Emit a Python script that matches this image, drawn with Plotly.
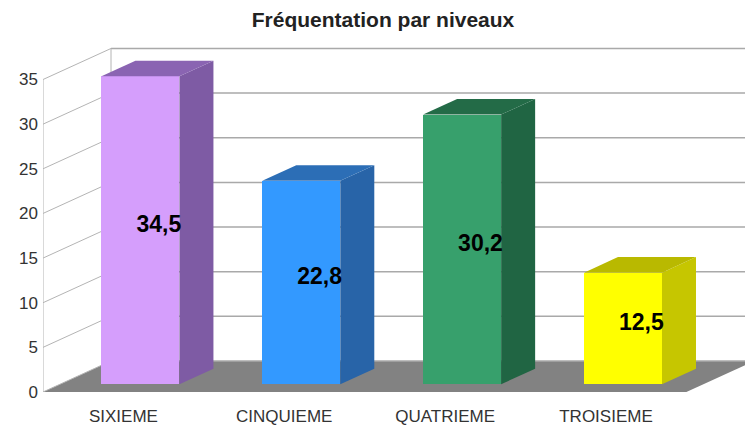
import plotly.graph_objects as go

# ---- data ----
categories = ["SIXIEME", "CINQUIEME", "QUATRIEME", "TROISIEME"]
values = [34.5, 22.8, 30.2, 12.5]
value_labels = ["34,5", "22,8", "30,2", "12,5"]
y_ticks = [0, 5, 10, 15, 20, 25, 30, 35]

front_colors = ["#d59efc", "#3399ff", "#37a06c", "#ffff00"]
side_colors = ["#7e5ba4", "#2864a8", "#206543", "#c6c600"]
top_colors = ["#8a64b2", "#2c6eb6", "#236b47", "#b9b900"]

# ---- oblique 3D projection parameters (data units) ----
DX = 0.4228   # horizontal shift for full depth
DY = 3.48     # vertical shift for full depth
D0, D1 = 0.25, 0.75   # bar depth span
BW = 0.485            # bar width
XL, XR = -0.5, len(categories) - 0.5
YMAX = max(y_ticks)

fig = go.Figure()
shapes = []
line_col = "#b4b4b4"

# floor
shapes.append(dict(type="path", xref="x", yref="y", layer="below",
                   path=f"M {XL} 0 L {XR} 0 L {XR+DX} {DY} L {XL+DX} {DY} Z",
                   fillcolor="#828282", line=dict(width=0)))
# back wall gridlines
for v in y_ticks:
    shapes.append(dict(type="line", xref="x", yref="y", layer="below",
                       x0=XL + DX, y0=v + DY, x1=XR + DX + 1, y1=v + DY,
                       line=dict(color="#a9a9a9", width=1.5)))
# left wall lines
for v in y_ticks:
    shapes.append(dict(type="line", xref="x", yref="y", layer="below",
                       x0=XL, y0=v, x1=XL + DX, y1=v + DY,
                       line=dict(color=line_col, width=1)))
shapes.append(dict(type="line", xref="x", yref="y", layer="below",
                   x0=XL, y0=0, x1=XL, y1=YMAX, line=dict(color=line_col, width=1)))
shapes.append(dict(type="line", xref="x", yref="y", layer="below",
                   x0=XL + DX, y0=DY, x1=XL + DX, y1=YMAX + DY,
                   line=dict(color=line_col, width=1)))

# front faces of bars
xs_front = [i + D0 * DX for i in range(len(categories))]
fig.add_trace(go.Bar(x=xs_front, y=values, base=D0 * DY, width=BW,
                     marker=dict(color=front_colors, line=dict(width=0)),
                     hoverinfo="skip", showlegend=False))

# side and top faces
for i, v in enumerate(values):
    xl = i + D0 * DX - BW / 2
    xr = i + D0 * DX + BW / 2
    yb = D0 * DY
    yt = v + D0 * DY
    ddx = (D1 - D0) * DX
    ddy = (D1 - D0) * DY
    fig.add_trace(go.Scatter(x=[xr, xr + ddx, xr + ddx, xr, xr],
                             y=[yb, yb + ddy, yt + ddy, yt, yb],
                             fill="toself", fillcolor=side_colors[i],
                             line=dict(width=0), mode="lines",
                             hoverinfo="skip", showlegend=False))
    fig.add_trace(go.Scatter(x=[xl, xr, xr + ddx, xl + ddx, xl],
                             y=[yt, yt, yt + ddy, yt + ddy, yt],
                             fill="toself", fillcolor=top_colors[i],
                             line=dict(width=0), mode="lines",
                             hoverinfo="skip", showlegend=False))

# data labels near bar centres
fig.add_trace(go.Scatter(x=[i + 0.52 * DX for i in range(len(categories))],
                         y=[v / 2 + 0.37 * DY for v in values],
                         mode="text", text=value_labels,
                         textfont=dict(family="Liberation Sans", size=23, color="#000000"),
                         texttemplate="<b>%{text}</b>",
                         hoverinfo="skip", showlegend=False))

W, H = 745, 435
left, bottom, top = 43, 43.3, 40
px_per_x = 160.85
px_per_y = 8.92
x_range = [XL, XL + (W - left) / px_per_x]
y_range = [0, (H - bottom - top) / px_per_y]

fig.update_layout(
    width=W, height=H,
    margin=dict(l=left, r=0, t=top, b=bottom),
    paper_bgcolor="white", plot_bgcolor="white",
    shapes=shapes,
    title=dict(text="<b>Fréquentation par niveaux</b>", x=383 / W, xref="container",
               xanchor="center", y=1 - 20 / H, yref="container", yanchor="middle",
               font=dict(family="Liberation Sans", size=21, color="#222222")),
    xaxis=dict(range=x_range, tickvals=list(range(len(categories))), ticktext=categories,
               showgrid=False, zeroline=False, showline=False, ticks="",
               ticklabelstandoff=12,
               tickfont=dict(family="Liberation Sans", size=17, color="#333333"),
               fixedrange=True),
    yaxis=dict(range=y_range, tickvals=y_ticks, showgrid=False, zeroline=False,
               showline=False, ticks="", ticklabelstandoff=4,
               tickfont=dict(family="Liberation Sans", size=17, color="#333333"),
               fixedrange=True),
    bargap=0,
)

fig.write_html("out.html", config={"displayModeBar": False},
               post_script="document.body.style.margin='0';document.body.style.overflow='hidden';")
